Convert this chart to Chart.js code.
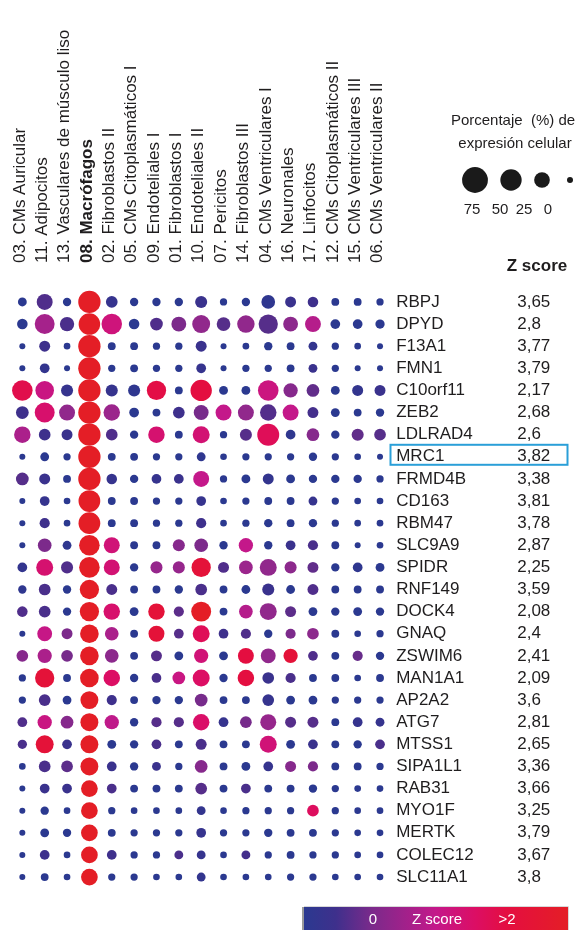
<!DOCTYPE html>
<html>
<head>
<meta charset="utf-8">
<title>Dot plot – genes marcadores de macrófagos</title>
<script src="https://cdn.jsdelivr.net/npm/chart.js@4.4.1/dist/chart.umd.min.js"></script>
<style>
  html, body { margin: 0; padding: 0; background: #ffffff; }
  canvas { display: block; }
</style>
</head>
<body>
<canvas id="dotplot" width="581" height="930"></canvas>
<script>
// Cell clusters (columns) and marker genes (rows)
const cellTypes = [
  '03. CMs Auricular', '11. Adipocitos', '13. Vasculares de músculo liso',
  '08. Macrófagos', '02. Fibroblastos II', '05. CMs Citoplasmáticos I',
  '09. Endoteliales I', '01. Fibroblastos I', '10. Endoteliales II',
  '07. Pericitos', '14. Fibroblastos III', '04. CMs Ventriculares I',
  '16. Neuronales', '17. Linfocitos', '12. CMs Citoplasmáticos II',
  '15. CMs Ventriculares III', '06. CMs Ventriculares II'
];
const focusCell = '08. Macrófagos';

const genes = [
  'RBPJ', 'DPYD', 'F13A1', 'FMN1', 'C10orf11', 'ZEB2', 'LDLRAD4', 'MRC1',
  'FRMD4B', 'CD163', 'RBM47', 'SLC9A9', 'SPIDR', 'RNF149', 'DOCK4', 'GNAQ',
  'ZSWIM6', 'MAN1A1', 'AP2A2', 'ATG7', 'MTSS1', 'SIPA1L1', 'RAB31', 'MYO1F',
  'MERTK', 'COLEC12', 'SLC11A1'
];
const highlightGene = 'MRC1';

// Z score of each gene in the macrophage cluster
const zScores = [
  3.65, 2.8, 3.77, 3.79, 2.17, 2.68, 2.6, 3.82, 3.38, 3.81, 3.78, 2.87, 2.25,
  3.59, 2.08, 2.4, 2.41, 2.09, 3.6, 2.81, 2.65, 3.36, 3.66, 3.25, 3.79, 3.67, 3.8
];

// Percentage of cells expressing each gene (rows = genes, columns = cellTypes)
const pctExpr = [
  [5, 26, 4, 55, 12, 4, 4, 4, 13, 2, 4, 18, 10, 9, 3, 3, 2],
  [9, 43, 20, 51, 46, 9, 15, 22, 34, 18, 32, 40, 22, 26, 7, 7, 6],
  [0, 10, 1, 55, 3, 3, 2, 2, 10, 0, 1, 4, 3, 5, 2, 1, 0],
  [0, 7, 0, 55, 2, 3, 2, 2, 7, 0, 2, 2, 3, 5, 2, 0, 0],
  [46, 37, 13, 55, 13, 13, 40, 3, 50, 5, 5, 46, 20, 15, 5, 10, 10],
  [15, 43, 26, 55, 28, 7, 3, 12, 22, 26, 26, 28, 26, 10, 5, 3, 4],
  [28, 12, 10, 55, 12, 4, 28, 3, 30, 2, 13, 53, 7, 15, 4, 13, 12],
  [0, 5, 2, 55, 3, 3, 2, 2, 5, 1, 2, 2, 2, 4, 2, 1, 0],
  [15, 10, 3, 55, 9, 4, 7, 7, 26, 2, 5, 10, 5, 4, 4, 4, 2],
  [0, 7, 1, 52, 3, 3, 2, 2, 7, 1, 2, 3, 3, 5, 2, 1, 1],
  [0, 8, 1, 52, 3, 3, 2, 2, 8, 1, 2, 4, 3, 4, 2, 1, 1],
  [0, 18, 5, 46, 26, 3, 3, 13, 18, 4, 20, 4, 7, 8, 3, 0, 1],
  [7, 30, 13, 46, 26, 4, 13, 13, 40, 10, 18, 30, 13, 10, 4, 7, 5],
  [4, 12, 4, 40, 10, 3, 3, 4, 12, 3, 5, 13, 5, 10, 3, 3, 3],
  [9, 12, 4, 40, 28, 5, 28, 8, 43, 3, 18, 30, 10, 5, 4, 5, 4],
  [0, 22, 10, 37, 18, 3, 26, 7, 30, 7, 8, 4, 8, 12, 3, 1, 2],
  [12, 20, 12, 37, 18, 3, 10, 5, 20, 5, 26, 22, 20, 7, 3, 8, 4],
  [2, 40, 3, 37, 28, 4, 7, 15, 30, 4, 28, 12, 8, 3, 3, 1, 3],
  [2, 12, 5, 34, 8, 3, 4, 4, 15, 3, 3, 12, 5, 5, 2, 2, 2],
  [7, 20, 15, 34, 20, 4, 8, 8, 28, 7, 12, 26, 10, 10, 3, 7, 5],
  [6, 34, 7, 34, 5, 4, 7, 3, 10, 3, 3, 30, 5, 7, 3, 4, 7],
  [1, 12, 12, 34, 7, 4, 5, 2, 15, 3, 5, 7, 10, 8, 3, 3, 2],
  [0, 7, 7, 29, 7, 3, 3, 3, 12, 3, 7, 3, 3, 4, 2, 1, 1],
  [0, 4, 1, 29, 2, 1, 1, 1, 5, 1, 2, 2, 2, 12, 2, 1, 1],
  [0, 5, 4, 29, 3, 2, 2, 2, 7, 2, 2, 4, 3, 3, 2, 1, 1],
  [0, 7, 1, 29, 7, 2, 2, 5, 5, 1, 5, 2, 3, 2, 2, 1, 1],
  [0, 3, 1, 29, 2, 2, 1, 1, 5, 1, 1, 1, 2, 2, 1, 1, 1]
];

// Z score per gene and cluster; null = macrophage column, taken from zScores
const zByCell = [
  [-1, -0.2, -1, null, -0.7, -1, -1, -1, -0.6, -1, -1, -0.9, -0.6, -0.5, -1, -1, -1],
  [-1, 0.7, -0.3, null, 1.2, -1, -0.2, 0.3, 0.5, -0.1, 0.5, -0.1, 0.45, 0.85, -1, -1, -1],
  [-1, -0.5, -1, null, -1, -1, -1, -1, -0.6, -1, -1, -1, -1, -0.8, -1, -1, -1],
  [-1, -0.8, -1, null, -1, -1, -1, -1, -0.7, -1, -1, -1, -1, -0.6, -1, -1, -1],
  [1.7, 1.1, -0.7, null, -0.7, -0.9, 1.75, -1, 1.8, -1, -1, 1.15, 0.4, 0.05, -1, -0.8, -0.6],
  [-0.5, 1.4, 0.5, null, 0.6, -1, -1, -0.5, 0.25, 1.0, 0.5, -0.15, 1.0, -0.4, -1, -1, -1],
  [0.75, -0.5, -0.6, null, -0.2, -1, 1.35, -1, 1.3, -1, -0.1, 1.6, -0.9, 0.4, -1, 0.05, -0.1],
  [-1, -1, -1, null, -1, -1, -1, -1, -0.9, -1, -1, -1, -1, -1, -1, -1, -1],
  [-0.1, -0.6, -1, null, -0.7, -1, -0.7, -0.6, 1.0, -1, -1, -0.8, -1, -1, -1, -1, -1],
  [-1, -0.7, -1, null, -1, -1, -1, -1, -0.7, -1, -1, -1, -1, -0.7, -1, -1, -1],
  [-1, -0.5, -1, null, -1, -1, -1, -1, -0.5, -1, -1, -1, -1, -1, -1, -1, -1],
  [-1, 0.3, -0.9, null, 1.25, -1, -1, 0.4, 0.3, -1, 1.0, -1, -0.6, -0.3, -1, -1, -1],
  [-0.8, 1.35, -0.2, null, 1.3, -1, 0.55, 0.55, 1.85, -0.2, 0.6, 0.5, 0.45, 0.05, -1, -0.9, -1],
  [-0.9, -0.3, -1, null, -0.3, -1, -1, -1, -0.3, -1, -1, -0.6, -1, -0.2, -1, -1, -1],
  [-0.2, -0.3, -1, null, 1.4, -1, 1.85, 0.0, 2.2, -1, 0.85, 0.5, 0.0, -1, -1, -1, -1],
  [-1, 1.05, 0.3, null, 0.75, -1, 1.85, -0.1, 1.6, -0.5, -0.2, -1, 0.3, 0.45, -1, -1, -1],
  [0.4, 0.75, 0.25, null, 0.45, -1, -0.1, -1, 1.25, -1, 1.8, 0.5, 1.85, -0.2, -1, 0.1, -1],
  [-1, 1.85, -1, null, 1.5, -1, -0.3, 1.1, 1.5, -1, 1.8, -0.6, -0.3, -1, -1, -1, -1],
  [-1, -0.3, -1, null, -0.5, -1, -1, -1, 0.25, -1, -1, -0.7, -1, -1, -1, -1, -1],
  [-0.2, 1.1, 0.4, null, 0.95, -1, -0.1, -0.1, 1.45, -0.7, 0.25, 0.55, -0.1, -0.1, -1, -0.7, -0.7],
  [-0.3, 1.85, -0.6, null, -1, -1, -0.3, -1, -0.3, -1, -1, 1.25, -1, -0.6, -1, -1, -0.3],
  [-1, -0.3, 0.0, null, -0.6, -1, -0.6, -1, 0.4, -1, -1, -0.7, 0.4, 0.3, -1, -1, -1],
  [-1, -0.6, -0.6, null, -0.3, -1, -1, -1, -0.1, -1, -0.3, -1, -1, -1, -1, -1, -1],
  [-1, -1, -1, null, -1, -1, -1, -1, -0.8, -1, -1, -1, -1, 1.55, -1, -1, -1],
  [-1, -1, -1, null, -1, -1, -1, -1, -0.7, -1, -1, -1, -1, -1, -1, -1, -1],
  [-1, -0.5, -1, null, -0.5, -1, -1, -0.3, -0.7, -1, -0.4, -1, -1, -1, -1, -1, -1],
  [-1, -1, -1, null, -1, -1, -1, -1, -0.8, -1, -1, -1, -1, -1, -1, -1, -1]
];

// Size legend entries (% of expressing cells)
const legendPct = [75, 50, 25, 0];
// Colour bar tick labels
const colorbarLabels = ['0', 'Z score', '>2'];

const FONT = "'Liberation Sans', Arial, Helvetica, sans-serif";
const INK = '#1f1d1e';

// Dot area grows linearly with the percentage of expressing cells
function radiusFor(pct) {
  return Math.sqrt(9 + 2.1 * pct);
}

// Blue -> purple -> magenta -> red colour ramp, saturated above z = 2
const rampStops = [
  [-1.0, [43, 57, 144]],
  [-0.5, [62, 48, 140]],
  [0.0, [92, 45, 138]],
  [0.5, [145, 40, 140]],
  [1.0, [196, 24, 138]],
  [1.5, [220, 14, 100]],
  [1.8, [228, 14, 64]],
  [2.0, [228, 30, 38]]
];
function colorForZ(z) {
  const zc = Math.max(rampStops[0][0], Math.min(rampStops[rampStops.length - 1][0], z));
  for (let i = 1; i < rampStops.length; i++) {
    const [z1, c1] = rampStops[i];
    const [z0, c0] = rampStops[i - 1];
    if (zc <= z1) {
      const t = (zc - z0) / (z1 - z0);
      const c = c0.map((v, k) => Math.round(v + (c1[k] - v) * t));
      return `rgb(${c[0]},${c[1]},${c[2]})`;
    }
  }
  const c = rampStops[rampStops.length - 1][1];
  return `rgb(${c[0]},${c[1]},${c[2]})`;
}

const points = [];
genes.forEach((gene, gi) => {
  cellTypes.forEach((cell, ci) => {
    const zRaw = zByCell[gi][ci];
    points.push({
      x: cell,
      y: gene,
      r: radiusFor(pctExpr[gi][ci]),
      z: zRaw === null ? zScores[gi] : zRaw
    });
  });
});

const zLabels = zScores.map(v => String(v).replace('.', ','));

// Highlight box, size legend and colour bar
const decorations = {
  id: 'decorations',
  afterDraw(chart) {
    const ctx = chart.ctx;
    const yScale = chart.scales.y;
    ctx.save();

    // box around the highlighted gene row
    const hy = yScale.getPixelForValue(genes.indexOf(highlightGene));
    ctx.strokeStyle = '#2a9fd8';
    ctx.lineWidth = 2;
    ctx.strokeRect(390.5, hy - 12, 177, 20);

    // size legend
    ctx.fillStyle = INK;
    ctx.textAlign = 'center';
    ctx.textBaseline = 'middle';
    ctx.font = `15px ${FONT}`;
    ctx.fillText('Porcentaje  (%) de', 513, 121);
    ctx.fillText('expresión celular', 515, 144);
    const legendX = [475, 511, 542, 570];
    const labelX = [472, 500, 524, 548];
    legendPct.forEach((p, i) => {
      ctx.beginPath();
      ctx.fillStyle = '#1a1a1a';
      ctx.arc(legendX[i], 180, radiusFor(p), 0, Math.PI * 2);
      ctx.fill();
      ctx.fillStyle = INK;
      ctx.fillText(String(p), labelX[i], 210);
    });

    ctx.font = `bold 17px ${FONT}`;
    ctx.fillText('Z score', 537, 266);

    // colour bar
    const bx0 = 304, bx1 = 568, by0 = 907, by1 = 930;
    const grad = ctx.createLinearGradient(bx0, 0, bx1, 0);
    [[0, -1], [0.12, -0.5], [0.26, 0.3], [0.5, 1.0], [0.65, 1.5], [0.77, 1.8], [1, 2.0]]
      .forEach(([f, z]) => grad.addColorStop(f, colorForZ(z)));
    ctx.fillStyle = grad;
    ctx.fillRect(bx0, by0, bx1 - bx0, by1 - by0);
    ctx.strokeStyle = '#d8d8d8';
    ctx.lineWidth = 1;
    ctx.beginPath();
    ctx.moveTo(bx0, by0 - 0.5); ctx.lineTo(bx1 + 0.5, by0 - 0.5); ctx.lineTo(bx1 + 0.5, by1);
    ctx.stroke();
    ctx.fillStyle = '#9a9a9a';
    ctx.fillRect(bx0 - 2, by0, 2, by1 - by0);

    ctx.fillStyle = '#ffffff';
    ctx.font = `15px ${FONT}`;
    const cbX = [373, 437, 507];
    colorbarLabels.forEach((t, i) => ctx.fillText(t, cbX[i], 920));
    ctx.restore();
  }
};

new Chart(document.getElementById('dotplot'), {
  type: 'bubble',
  data: {
    datasets: [{
      data: points,
      backgroundColor: c => colorForZ(c.raw.z),
      borderWidth: 0,
      hoverBorderWidth: 0,
      hoverRadius: 0,
      hitRadius: 0
    }]
  },
  options: {
    responsive: false,
    animation: false,
    events: [],
    layout: { padding: { left: 10.8, top: 0, right: 0, bottom: 41.9 } },
    plugins: { legend: { display: false }, tooltip: { enabled: false } },
    scales: {
      x: {
        type: 'category',
        labels: cellTypes,
        position: 'top',
        offset: true,
        grid: { display: false, drawTicks: false },
        border: { display: false },
        ticks: {
          autoSkip: false,
          minRotation: 90,
          maxRotation: 90,
          padding: 28,
          labelOffset: 18,
          color: INK,
          font: c => ({
            family: FONT,
            size: 17,
            weight: (c.tick && c.tick.label === focusCell) ? 'bold' : 'normal'
          })
        },
        afterFit: s => {
          s.height = 290.9;
          s.paddingLeft = 0;
          s.paddingRight = 0;
        }
      },
      y: {
        type: 'category',
        labels: genes,
        position: 'right',
        weight: 0,
        offset: true,
        grid: { display: false, drawTicks: false },
        border: { display: false },
        ticks: { autoSkip: false, padding: 5, color: INK, font: { family: FONT, size: 17 } },
        afterFit: s => { s.width = 121; }
      },
      yz: {
        type: 'category',
        labels: zLabels,
        position: 'right',
        weight: 1,
        offset: true,
        grid: { display: false, drawTicks: false },
        border: { display: false },
        ticks: { autoSkip: false, padding: 5, color: INK, font: { family: FONT, size: 17 } },
        afterFit: s => { s.width = 68.8; }
      }
    }
  },
  plugins: [decorations]
});
</script>
</body>
</html>
